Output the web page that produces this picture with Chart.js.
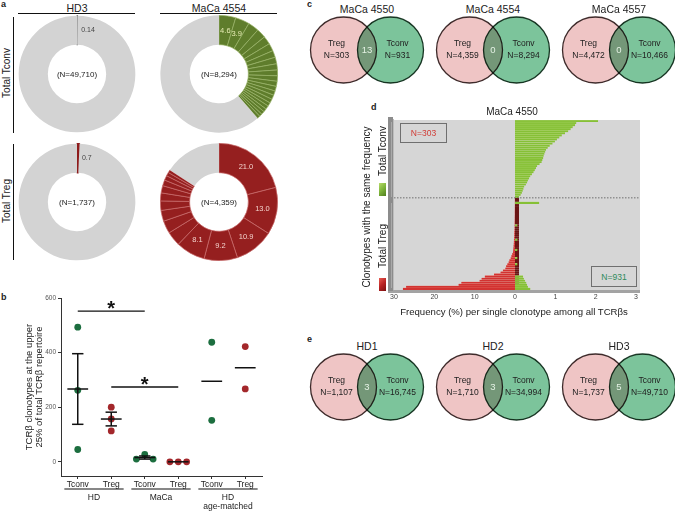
<!DOCTYPE html>
<html><head><meta charset="utf-8">
<script src="https://cdn.jsdelivr.net/npm/chart.js@4.4.1/dist/chart.umd.min.js"></script>
<style>
body{margin:0;background:#fff;}
#root{position:relative;width:675px;height:511px;overflow:hidden;font-family:"Liberation Sans",Arial,sans-serif;color:#222;background:#fff;}
.t{position:absolute;white-space:nowrap;line-height:1;}
.c{transform:translate(-50%,-50%);}
.rot{transform:translate(-50%,-50%) rotate(-90deg);}
.ln{position:absolute;}
canvas{position:absolute;}
</style></head><body><div id="root"></div>
<script>
// ================= DATA =================
// Panel a – doughnuts (percent of total repertoire per clonotype)
const donutTitles = ['HD3', 'MaCa 4554'];
const donutRowTitles = ['Total Tconv', 'Total Treg'];
const donutN = [49710, 8294, 1737, 4359];
const hd3TconvSlices = [0.14];
const maca4554TconvSlices = [4.6, 3.9, 3.0, 2.6, 2.3, 2.1, 1.9, 1.8, 1.7, 1.6, 1.5, 1.4, 1.3, 1.2, 1.2, 1.1, 1.0, 1.0, 0.9, 0.9, 0.8, 0.8];
const hd3TregSlices = [0.7];
const maca4554TregSlices = [21.0, 13.0, 10.9, 9.2, 8.1, 4.0, 3.5, 3.0, 2.6, 2.2, 2.0, 1.6, 1.3, 1.0, 0.8];

// Panel b – dot plot
const bCategories = ['Tconv', 'Treg', 'Tconv', 'Treg', 'Tconv', 'Treg'];
const bGroupLabels = [['HD'], ['MaCa'], ['HD', 'age-matched']];
const bValues = [[493, 262, 45], [200, 157, 113], [10, 27, 10], [0, 0, 0], [438, 152], [422, 267]];
const bShowSEM = [true, true, true, true, false, false];
const bSig = [[0, 2, 552], [1, 3, 274]];
const bYTicks = [0, 200, 400, 600];
const bYTitle = ['TCRβ clonotypes at the upper', '25% of total TCRβ repertoire'];

// Panel c – Venn
const vennTitlesC = ['MaCa 4550', 'MaCa 4554', 'MaCa 4557'];
const vennTregC = [303, 4359, 4472];
const vennTconvC = [931, 8294, 10466];
const vennSharedC = [13, 0, 0];
// Panel e – Venn
const vennTitlesE = ['HD1', 'HD2', 'HD3'];
const vennTregE = [1107, 1710, 1737];
const vennTconvE = [16745, 34994, 49710];
const vennSharedE = [3, 3, 5];

// Panel d – frequency (%) per clonotype, MaCa 4550
const dTitle = 'MaCa 4550';
const dTconvFreq = [2.06, 1.52, 1.49, 1.43, 1.38, 1.32, 1.24, 1.16, 1.10, 1.04, 0.99, 0.93, 0.86, 0.81, 0.77, 0.75, 0.73, 0.71, 0.70, 0.68,
  0.66, 0.61, 0.55, 0.52, 0.49, 0.46, 0.42, 0.38, 0.35, 0.32, 0.30, 0.27, 0.23, 0.21, 0.19, 0.17, 0.14, 0.10];
const dTregFreq = [0.05, 0.05, 0.06, 0.06, 0.07, 0.07, 0.08, 0.08, 0.09, 0.10, 0.10, 0.11, 0.12, 0.13, 0.14, 0.15, 0.17, 0.19, 0.21, 0.24,
  0.27, 0.30, 0.33, 0.37, 0.41, 0.45, 0.5, 0.7, 0.9, 1.1, 1.4, 1.6, 1.9, 2.2, 2.4, 3.0, 3.6, 5.2, 7.5, 8.3, 8.8, 13.3, 14.0, 27.0, 27.8];
const dSharedTconvFreq = [null, null, 0.6, null, null, null, null, null, null, null, null, null, null, 0.06, null, null, null, null, null, null,
  0.06, null, null, null, null, 0.06, null, null, null, 0.06, null, null, 0.06, null, null, null, null, null, 0.2, 0.22, 0.25, 0.28, 0.3, 0.32, 0.38];
const dLeftTicks = [30, 20, 10];   // Treg side of the axis (compressed 10:1)
const dRightTicks = [0, 1, 2, 3];  // Tconv side of the axis
const dLeftRatio = 10;

// ================= HELPERS =================
const FONT = '"Liberation Sans", Arial, sans-serif';
Chart.defaults.font.family = FONT;
Chart.defaults.color = '#222';
const root = document.getElementById('root');
const fmt = n => n.toLocaleString('en-US');
function mkCanvas(l, t, w, h) {
  const c = document.createElement('canvas');
  c.width = w; c.height = h;
  c.style.left = l + 'px'; c.style.top = t + 'px';
  c.style.width = w + 'px'; c.style.height = h + 'px';
  root.appendChild(c); return c;
}
function txt(s, x, y, size, o = {}) {
  const d = document.createElement('div');
  d.className = 't ' + (o.rot ? 'rot' : (o.tl ? '' : 'c'));
  d.textContent = s;
  d.style.left = x + 'px'; d.style.top = y + 'px'; d.style.fontSize = size + 'px';
  if (o.color) d.style.color = o.color;
  if (o.bold) d.style.fontWeight = 'bold';
  root.appendChild(d); return d;
}
function rect(l, t, w, h, bg, extra) {
  const d = document.createElement('div');
  d.className = 'ln';
  d.style.left = l + 'px'; d.style.top = t + 'px'; d.style.width = w + 'px'; d.style.height = h + 'px';
  d.style.background = bg;
  if (extra) Object.assign(d.style, extra);
  root.appendChild(d); return d;
}
const base = { responsive: false, animation: false, events: [], devicePixelRatio: 1 };
const noLegend = { legend: { display: false }, tooltip: { enabled: false } };

// ================= PANEL LETTERS =================
txt('a', 1, 0, 9, { tl: true, bold: true });
txt('b', 1, 293, 9, { tl: true, bold: true });
txt('c', 307, 0, 9, { tl: true, bold: true });
txt('d', 371, 103, 9, { tl: true, bold: true });
txt('e', 307, 335, 9, { tl: true, bold: true });

// ================= PANEL A =================
txt(donutTitles[0], 77, 8, 10.5);
txt(donutTitles[1], 219, 8, 10.5);
rect(18, 13, 117, 1.2, '#111');
rect(160, 13, 117, 1.2, '#111');
rect(12.5, 17, 1.2, 116, '#111');
rect(12.5, 144, 1.2, 116, '#111');
txt(donutRowTitles[0], 7, 73, 10, { rot: true });
txt(donutRowTitles[1], 7, 201, 10, { rot: true });

const donutPlugin = (n, lab) => ({
  id: 'donutText',
  afterDatasetsDraw(chart) {
    const ctx = chart.ctx, a = chart.chartArea;
    ctx.save();
    ctx.font = '8px ' + FONT; ctx.fillStyle = '#222';
    ctx.textAlign = 'center'; ctx.textBaseline = 'middle';
    ctx.fillText('(N=' + fmt(n) + ')', (a.left + a.right) / 2, (a.top + a.bottom) / 2 + 0.5);
    const meta = chart.getDatasetMeta(0), data = chart.data.datasets[0].data;
    ctx.font = lab.size + 'px ' + FONT; ctx.fillStyle = lab.color;
    for (let i = 0; i < lab.count; i++) {
      const p = meta.data[i].tooltipPosition();
      const s = data[i].toFixed(lab.dec);
      if (lab.outside) { ctx.textAlign = 'left'; ctx.fillText(s, p.x + 4, p.y); }
      else { ctx.textAlign = 'center'; ctx.fillText(s, p.x, p.y); }
    }
    ctx.restore();
  }
});
function donut(cx, cy, slices, color, sep, n, lab) {
  const R = 59;
  const cv = mkCanvas(cx - R, cy - R, 2 * R, 2 * R);
  const rest = 100 - slices.reduce((a, b) => a + b, 0);
  const tiny = slices.length === 1;
  new Chart(cv, {
    type: 'doughnut',
    data: { datasets: [{
      data: [...slices, rest],
      backgroundColor: [...slices.map(() => color), '#d3d3d3'],
      borderColor: [...slices.map(() => tiny ? color : sep), '#d3d3d3'],
      borderWidth: [...slices.map(() => tiny ? 1.3 : 0.7), 0]
    }] },
    options: { ...base, cutout: '50%', layout: { padding: 0, autoPadding: false }, plugins: noLegend },
    plugins: [donutPlugin(n, lab)]
  });
}
donut(77, 74, hd3TconvSlices, '#6e6e6e', '#6e6e6e', donutN[0], { count: 1, dec: 2, outside: true, size: 7, color: '#444' });
donut(219, 74, maca4554TconvSlices, '#5f7d2c', '#9bb46a', donutN[1], { count: 2, dec: 1, outside: false, size: 7.5, color: '#e6ebb4' });
donut(77, 202, hd3TregSlices, '#8e1c1c', '#8e1c1c', donutN[2], { count: 1, dec: 1, outside: true, size: 7, color: '#444' });
donut(219, 202, maca4554TregSlices, '#951f1f', '#c86c6c', donutN[3], { count: 5, dec: 1, outside: false, size: 7.5, color: '#f3d2cc' });

// ================= PANEL B =================
const meanOf = v => v.reduce((a, b) => a + b, 0) / v.length;
const semOf = v => { const m = meanOf(v); const sd = Math.sqrt(v.reduce((a, b) => a + (b - m) * (b - m), 0) / (v.length - 1)); return sd / Math.sqrt(v.length); };
function xsFor(i) {
  const v = bValues[i]; const spread = Math.max(...v) - Math.min(...v);
  return v.map((_, k) => i + (spread < 60 ? (k - (v.length - 1) / 2) * 0.25 : 0));
}
function ptsFor(idx) {
  const out = [];
  idx.forEach(i => { const xs = xsFor(i); bValues[i].forEach((y, k) => out.push({ x: xs[k], y })); });
  return out;
}
const bPlugin = {
  id: 'bStats',
  afterDatasetsDraw(chart) {
    const ctx = chart.ctx, xs = chart.scales.x, ys = chart.scales.y;
    const u = xs.getPixelForValue(1) - xs.getPixelForValue(0);
    ctx.save(); ctx.strokeStyle = '#111'; ctx.lineWidth = 1.5; ctx.lineCap = 'butt';
    const seg = (x1, y1, x2, y2) => { ctx.beginPath(); ctx.moveTo(x1, y1); ctx.lineTo(x2, y2); ctx.stroke(); };
    bValues.forEach((v, i) => {
      const m = meanOf(v), px = xs.getPixelForValue(i), hw = u * 0.31;
      seg(px - hw, ys.getPixelForValue(m), px + hw, ys.getPixelForValue(m));
      if (bShowSEM[i]) {
        const s = semOf(v);
        if (s > 0) {
          const t = ys.getPixelForValue(m + s), b = ys.getPixelForValue(m - s), cw = u * 0.17;
          seg(px, t, px, b); seg(px - cw, t, px + cw, t); seg(px - cw, b, px + cw, b);
        }
      }
    });
    ctx.lineWidth = 1.3;
    ctx.fillStyle = '#111'; ctx.font = 'bold 20px ' + FONT; ctx.textAlign = 'center'; ctx.textBaseline = 'alphabetic';
    bSig.forEach(([a, b, v]) => {
      const yy = ys.getPixelForValue(v), x1 = xs.getPixelForValue(a), x2 = xs.getPixelForValue(b);
      seg(x1, yy, x2, yy);
      ctx.fillText('*', (x1 + x2) / 2, yy + 4);
    });
    ctx.restore();
  },
  afterDraw(chart) {
    const ctx = chart.ctx, xs = chart.scales.x, a = chart.chartArea;
    const u = xs.getPixelForValue(1) - xs.getPixelForValue(0);
    ctx.save(); ctx.strokeStyle = '#111'; ctx.lineWidth = 1.2; ctx.fillStyle = '#222';
    ctx.font = '8.5px ' + FONT; ctx.textAlign = 'center'; ctx.textBaseline = 'middle';
    bGroupLabels.forEach((lines, g) => {
      const x1 = xs.getPixelForValue(2 * g) - u * 0.4, x2 = xs.getPixelForValue(2 * g + 1) + u * 0.37;
      const yy = a.bottom + 13;
      ctx.beginPath(); ctx.moveTo(x1, yy); ctx.lineTo(x2, yy); ctx.stroke();
      lines.forEach((s, k) => ctx.fillText(s, (x1 + x2) / 2, a.bottom + 22 + k * 9));
    });
    ctx.restore();
  }
};
new Chart(mkCanvas(24, 288, 246, 223), {
  type: 'scatter',
  data: { datasets: [
    { data: ptsFor([0, 2, 4]), backgroundColor: '#1c6e3f', borderWidth: 0, pointRadius: 3.4 },
    { data: ptsFor([1, 3, 5]), backgroundColor: '#a3272b', borderWidth: 0, pointRadius: 3.4 }
  ] },
  options: { ...base,
    layout: { padding: { top: 10, right: 8, left: 0, bottom: 0 }, autoPadding: false },
    plugins: noLegend,
    scales: {
      x: { type: 'linear', min: -0.5, max: 5.5,
        afterBuildTicks(s) { s.ticks = bCategories.map((c, i) => ({ value: i })); },
        ticks: { callback: v => bCategories[v], font: { size: 8.5 }, color: '#222', padding: 1, maxRotation: 0, autoSkip: false },
        grid: { drawOnChartArea: false, drawTicks: true, tickLength: 3, color: '#333', tickColor: '#333' },
        border: { display: true, color: '#333', width: 1 },
        afterFit(s) { s.height = 35; } },
      y: { min: -52, max: 600,
        afterBuildTicks(s) { s.ticks = bYTicks.map(v => ({ value: v })); },
        ticks: { font: { size: 6.5 }, color: '#555', padding: 2 },
        grid: { drawOnChartArea: false, drawTicks: true, tickLength: 3, color: '#333', tickColor: '#333' },
        border: { display: true, color: '#333', width: 1 },
        title: { display: true, text: bYTitle, font: { size: 9.5, lineHeight: 1.1 }, color: '#222', padding: { top: 0, bottom: 1 } },
        afterFit(s) { s.width = 37; } }
    } },
  plugins: [bPlugin]
});

// ================= PANELS C & E (Venn) =================
const vennPlugin = (treg, tconv, shared) => ({
  id: 'venn',
  beforeDatasetDraw(chart, args) { if (args.index === 0) { chart.ctx.save(); chart.ctx.globalCompositeOperation = 'multiply'; } },
  afterDatasetDraw(chart, args) { if (args.index === 0) chart.ctx.restore(); },
  afterDatasetsDraw(chart) {
    const ctx = chart.ctx;
    const g = chart.getDatasetMeta(0).data[0], p = chart.getDatasetMeta(1).data[0];
    ctx.save(); ctx.textAlign = 'center'; ctx.textBaseline = 'middle';
    ctx.font = '8.5px ' + FONT; ctx.fillStyle = '#222';
    ctx.fillText('Treg', p.x - 7, p.y - 6); ctx.fillText('N=' + fmt(treg), p.x - 7, p.y + 6);
    ctx.fillText('Tconv', g.x + 7, g.y - 6); ctx.fillText('N=' + fmt(tconv), g.x + 7, g.y + 6);
    ctx.font = '9.5px ' + FONT; ctx.fillStyle = '#e4f1e4';
    ctx.fillText(String(shared), (p.x + g.x) / 2, p.y);
    ctx.restore();
  }
});
function venn(cx, cy, title, treg, tconv, shared) {
  const W = 140, H = 72;
  const half = (W / 2) / 23.5;
  txt(title, cx, cy - 41, 10.5);
  new Chart(mkCanvas(cx - W / 2, cy - H / 2, W, H), {
    type: 'scatter',
    data: { datasets: [
      { data: [{ x: 1, y: 0 }], pointRadius: 33, backgroundColor: '#7cc49b', borderColor: '#1e3b2a', borderWidth: 1.3, clip: false },
      { data: [{ x: -1, y: 0 }], pointRadius: 33, backgroundColor: '#efc5c5', borderColor: '#3e2b2b', borderWidth: 1.3, clip: false }
    ] },
    options: { ...base, layout: { padding: 0, autoPadding: false }, plugins: noLegend,
      scales: { x: { display: false, min: -half, max: half }, y: { display: false, min: -1, max: 1 } } },
    plugins: [vennPlugin(treg, tconv, shared)]
  });
}
const vennX = [367, 493, 619];
vennTitlesC.forEach((t, i) => venn(vennX[i], 50, t, vennTregC[i], vennTconvC[i], vennSharedC[i]));
vennTitlesE.forEach((t, i) => venn(vennX[i], 387, t, vennTregE[i], vennTconvE[i], vennSharedE[i]));

// ================= PANEL D =================
const nUp = dTconvFreq.length;
const dLabels = Array.from({ length: nUp + dTregFreq.length }, (_, i) => i);
const upNulls = dTconvFreq.map(() => null);
// Treg bars go to the left on the compressed (x10) half of the axis
const leftData = upNulls.concat(dTregFreq.map(v => -v / dLeftRatio));
const greenData = dTconvFreq.concat(dSharedTconvFreq);
const depthData = upNulls.concat(dTregFreq.map(v => v > 0 ? 0.1 : null)); // 3-D side face of the Treg bars
const dTickValues = dLeftTicks.map(t => -t / dLeftRatio).concat(dRightTicks);

const dPlugin = {
  id: 'dBg',
  beforeDatasetsDraw(chart) {
    const ctx = chart.ctx, a = chart.chartArea;
    ctx.save();
    ctx.fillStyle = '#d6d6d6';
    ctx.fillRect(a.left, a.top, a.right - a.left + 4, a.bottom - a.top);
    ctx.fillStyle = '#a3a3a3';
    ctx.fillRect(a.left - 6, a.bottom, a.right - a.left + 10, 3);
    ctx.fillStyle = '#8c8c8c'; ctx.fillRect(a.left - 6, a.top - 3, 5, a.bottom - a.top + 4);
    ctx.fillStyle = '#bdbdbd'; ctx.fillRect(a.left - 1, a.top - 1, 1, a.bottom - a.top + 1);
    ctx.restore();
  },
  afterDatasetsDraw(chart) {
    const ctx = chart.ctx, a = chart.chartArea, ys = chart.scales.y;
    const yy = (ys.getPixelForValue(nUp - 1) + ys.getPixelForValue(nUp)) / 2;
    ctx.save(); ctx.strokeStyle = '#555'; ctx.lineWidth = 0.8; ctx.setLineDash([1.5, 1.5]);
    ctx.beginPath(); ctx.moveTo(a.left, yy); ctx.lineTo(a.right + 4, yy); ctx.stroke();
    ctx.restore();
  }
};
const barDs = (data, fill, edge) => ({ data, backgroundColor: fill, borderColor: edge,
  borderWidth: { top: 0.5, right: 0, bottom: 0, left: 0 }, borderSkipped: false,
  barPercentage: 1, categoryPercentage: 1, grouped: false });
new Chart(mkCanvas(370, 115, 285, 189), {
  type: 'bar',
  data: { labels: dLabels, datasets: [
    barDs(greenData, '#86c036', '#b9d97e'),
    barDs(depthData, '#6a1515', '#6a1515'),
    barDs(leftData, '#d23331', '#ea8479')
  ] },
  options: { ...base, indexAxis: 'y',
    layout: { padding: { left: 24, top: 5, right: 19, bottom: 0 }, autoPadding: false },
    plugins: noLegend,
    scales: {
      y: { type: 'category', display: false, offset: true },
      x: { type: 'linear', min: -dRightTicks[3], max: dRightTicks[3],
        afterBuildTicks(s) { s.ticks = dTickValues.map(v => ({ value: v })); },
        ticks: { callback: v => v < 0 ? String(Math.round(-v * dLeftRatio)) : String(v), font: { size: 7 }, color: '#444', padding: 3, maxRotation: 0, autoSkip: false },
        grid: { display: false, drawTicks: false }, border: { display: false },
        afterFit(s) { s.height = 14; } }
    } },
  plugins: [dPlugin]
});
txt(dTitle, 512, 112, 10);
txt('Clonotypes with the same frequency', 367, 207, 10, { rot: true });
txt('Total Tconv', 383, 151, 10, { rot: true });
txt('Total Treg', 383, 246, 10, { rot: true });
rect(391, 122, 1, 75, '#aaa');
rect(391, 203, 1, 85, '#aaa');
rect(379, 183, 7, 13, 'linear-gradient(135deg,#b8dc6a 0%,#7db33a 50%,#4f7d1e 100%)');
rect(379, 278, 7, 13, 'linear-gradient(135deg,#e85a50 0%,#b82222 50%,#7a1010 100%)');
txt('Frequency (%) per single clonotype among all TCRβs', 514, 312, 9.6);
// N boxes
rect(400, 123, 47, 20, '#d6d6d6', { border: '1.5px solid #6f6f6f', boxSizing: 'border-box' });
txt('N=' + vennTregC[0], 423.5, 133, 8.5, { color: '#d13b35' });
rect(591, 266, 46, 21, '#d6d6d6', { border: '1.5px solid #6f6f6f', boxSizing: 'border-box' });
txt('N=' + vennTconvC[0], 614, 276.5, 8.5, { color: '#2f8a5a' });
</script></body></html>
